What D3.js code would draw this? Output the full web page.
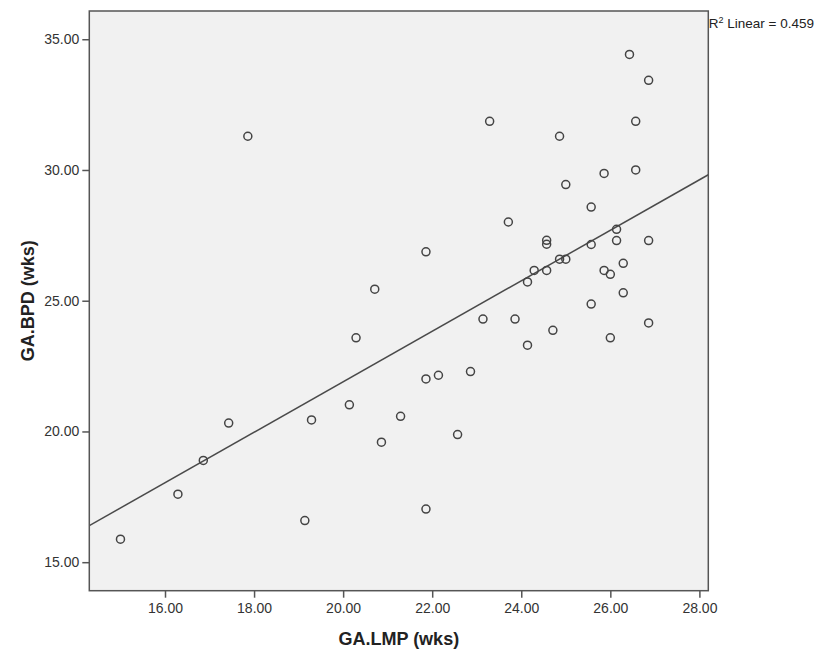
<!DOCTYPE html>
<html>
<head>
<meta charset="utf-8">
<title>GA.LMP vs GA.BPD</title>
<script src="https://cdn.jsdelivr.net/npm/d3@7/dist/d3.min.js"></script>
<style>
  body { margin: 0; background: #fff; }
  svg { font-family: "Liberation Sans", Arial, sans-serif; }
  .tick text { fill: #333; font-size: 14px; }
  .tick line { stroke: #555; stroke-width: 1.5; }
</style>
</head>
<body>
<svg id="chart" width="826" height="657"></svg>
<script>
// values (weeks)
var gaLmp = [15.00, 16.29, 16.86, 17.43, 19.14, 19.29, 20.14, 20.86, 21.29, 21.86,
             21.86, 22.14, 22.57, 22.86, 17.86, 21.86, 20.71, 20.29, 26.43, 26.86,
             23.29, 26.57, 24.86, 25.86, 26.57, 25.00, 25.57, 23.71, 26.14, 24.57,
             24.57, 25.57, 26.14, 26.86, 24.86, 25.00, 26.29, 24.29, 24.57, 25.86,
             26.00, 24.14, 26.29, 25.57, 23.14, 23.86, 26.86, 24.71, 24.14, 26.00];
var gaBpd = [15.88, 17.60, 18.89, 20.32, 16.59, 20.44, 21.02, 19.59, 20.58, 17.03,
             22.01, 22.15, 19.88, 22.29, 31.29, 26.87, 25.44, 23.58, 34.42, 33.43,
             31.86, 31.86, 31.29, 29.87, 30.00, 29.44, 28.58, 28.01, 27.73, 27.31,
             27.16, 27.15, 27.30, 27.30, 26.59, 26.59, 26.43, 26.16, 26.16, 26.16,
             26.01, 25.72, 25.30, 24.87, 24.30, 24.30, 24.15, 23.87, 23.30, 23.58];
var xTicks = [16, 18, 20, 22, 24, 26, 28];
var yTicks = [15, 20, 25, 30, 35];
var xTitle = "GA.LMP (wks)";
var yTitle = "GA.BPD (wks)";
var rSquared = 0.459;

var pLeft = 89.3, pRight = 708.3, pTop = 11, pBottom = 590.7;
var svg = d3.select("#chart");

var x = d3.scaleLinear().domain([14.3, 28.2]).range([pLeft, pRight]);
var y = d3.scaleLinear().domain([13.91, 36.08]).range([pBottom, pTop]);

svg.append("rect")
  .attr("x", pLeft).attr("y", pTop)
  .attr("width", pRight - pLeft).attr("height", pBottom - pTop)
  .attr("fill", "#f1f1f1");

var fmt = d3.format(".2f");

var gx = svg.append("g")
  .attr("transform", "translate(0," + pBottom + ")")
  .call(d3.axisBottom(x).tickValues(xTicks).tickSize(7).tickPadding(5).tickFormat(fmt));
gx.select(".domain").remove();

var gy = svg.append("g")
  .attr("transform", "translate(" + pLeft + ",0)")
  .call(d3.axisLeft(y).tickValues(yTicks).tickSize(7).tickPadding(3).tickFormat(fmt));
gy.select(".domain").remove();

// least squares fit line
var n = gaLmp.length;
var mx = d3.mean(gaLmp), my = d3.mean(gaBpd);
var sxy = 0, sxx = 0;
for (var i = 0; i < n; i++) {
  sxy += (gaLmp[i] - mx) * (gaBpd[i] - my);
  sxx += (gaLmp[i] - mx) * (gaLmp[i] - mx);
}
var slope = sxy / sxx, icpt = my - slope * mx;
var x0 = x.domain()[0], x1 = x.domain()[1];

svg.append("clipPath").attr("id", "clip")
  .append("rect").attr("x", pLeft).attr("y", pTop)
  .attr("width", pRight - pLeft).attr("height", pBottom - pTop);

svg.append("line")
  .attr("clip-path", "url(#clip)")
  .attr("x1", x(x0)).attr("y1", y(icpt + slope * x0))
  .attr("x2", x(x1)).attr("y2", y(icpt + slope * x1))
  .attr("stroke", "#4a4a4a")
  .attr("stroke-width", 1.5);

svg.append("g").selectAll("circle")
  .data(gaLmp)
  .enter().append("circle")
  .attr("cx", function (d) { return x(d); })
  .attr("cy", function (d, i) { return y(gaBpd[i]); })
  .attr("r", 4)
  .attr("fill", "none")
  .attr("stroke", "#444")
  .attr("stroke-width", 1.5);

svg.append("rect")
  .attr("x", pLeft).attr("y", pTop)
  .attr("width", pRight - pLeft).attr("height", pBottom - pTop)
  .attr("fill", "none")
  .attr("stroke", "#555")
  .attr("stroke-width", 1.5);

svg.append("text")
  .attr("x", (pLeft + pRight) / 2).attr("y", 645)
  .attr("text-anchor", "middle")
  .attr("font-size", 18).attr("font-weight", "bold").attr("fill", "#222")
  .text(xTitle);

svg.append("text")
  .attr("transform", "translate(34," + ((pTop + pBottom) / 2) + ") rotate(-90)")
  .attr("text-anchor", "middle")
  .attr("font-size", 18).attr("font-weight", "bold").attr("fill", "#222")
  .text(yTitle);

var r2 = svg.append("text")
  .attr("x", pRight + 0.5).attr("y", 27.5)
  .attr("font-size", 13.5).attr("fill", "#222");
r2.append("tspan").text("R");
r2.append("tspan").attr("font-size", 9).attr("dy", -5).text("2");
r2.append("tspan").attr("dy", 5).text(" Linear = " + rSquared);
</script>
</body>
</html>
